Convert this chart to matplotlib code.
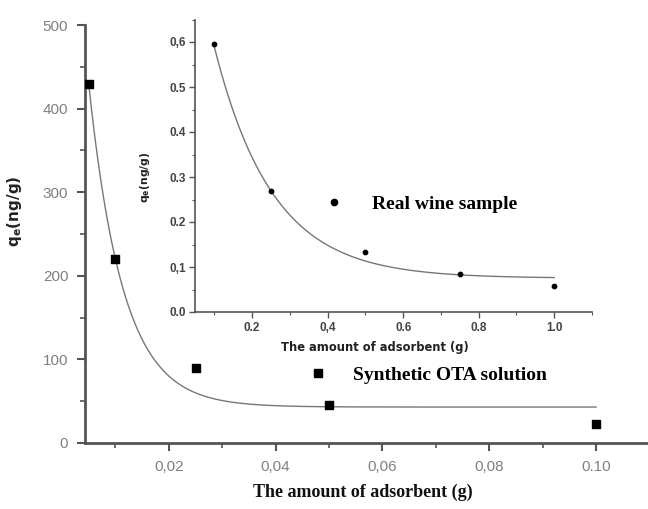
import numpy as np
import matplotlib
matplotlib.use("Agg")
import matplotlib.pyplot as plt
from matplotlib.ticker import MultipleLocator, FixedLocator, FixedFormatter
from matplotlib.lines import Line2D

# ---- data ----
main_x = [0.005, 0.010, 0.025, 0.050, 0.100]
main_y = [430, 220, 90, 46, 23]
# exponential decay fit y = y0 + A*exp(-x/t)
main_fit_y0, main_fit_A, main_fit_t = 43.0, 844.0, 0.0064

inset_x = [0.10, 0.25, 0.50, 0.75, 1.00]
inset_y = [0.595, 0.268, 0.133, 0.085, 0.058]
inset_fit_y0, inset_fit_A, inset_fit_t = 0.075, 0.985, 0.154

main_xticks = [0.02, 0.04, 0.06, 0.08, 0.10]
main_xticklabels = ["0,02", "0,04", "0,06", "0,08", "0.10"]
main_yticks = [0, 100, 200, 300, 400, 500]
inset_xticks = [0.2, 0.4, 0.6, 0.8, 1.0]
inset_xticklabels = ["0.2", "0,4", "0.6", "0.8", "1.0"]
inset_yticks = [0.0, 0.1, 0.2, 0.3, 0.4, 0.5, 0.6]
inset_yticklabels = ["0.0", "0,1", "0.2", "0.3", "0.4", "0.5", "0,6"]

W, H = 648, 509
fig = plt.figure(figsize=(W/100, H/100), dpi=100)

spine_c = "#555555"
line_c = "#777777"

# ---- main axes ----
ax = fig.add_axes([85/W, 1-443/H, (650-85)/W, (443-25)/H])
ax.scatter(main_x, main_y, marker="s", s=26, color="black", zorder=3)
xf = np.linspace(main_x[0], main_x[-1], 400)
ax.plot(xf, main_fit_y0 + main_fit_A*np.exp(-xf/main_fit_t), color=line_c, lw=1.0)
ax.set_xlim(0.0043, 0.1101)
ax.set_ylim(0, 500)
for s in ["top", "right"]:
    ax.spines[s].set_visible(False)
for s in ["left", "bottom"]:
    ax.spines[s].set_color(spine_c)
    ax.spines[s].set_linewidth(2.0)
ax.xaxis.set_major_locator(FixedLocator(main_xticks))
ax.xaxis.set_major_formatter(FixedFormatter(main_xticklabels))
ax.xaxis.set_minor_locator(MultipleLocator(0.01))
ax.yaxis.set_major_locator(FixedLocator(main_yticks))
ax.yaxis.set_minor_locator(MultipleLocator(50))
ax.tick_params(which="major", direction="out", length=6, width=1.5, color=spine_c,
               labelsize=11, labelcolor="#808080", pad=6)
ax.tick_params(which="minor", direction="out", length=3.5, width=1.2, color=spine_c)
for lab in ax.get_xticklabels() + ax.get_yticklabels():
    lab.set_family("Liberation Sans")

fig.text(15/W, 1-211/H, r"q$_\mathbf{e}$(ng/g)", rotation=90, ha="center", va="center",
         fontsize=11, fontweight="bold", family="DejaVu Sans", color="#222222")
fig.text(363/W, 1-492/H, "The amount of adsorbent (g)", ha="center", va="center",
         fontsize=13, fontweight="bold", family="Liberation Serif", color="#111111")

h1 = Line2D([], [], marker="s", ls="none", color="black", markersize=6)
ax.legend([h1], ["Synthetic OTA solution"], loc="center left",
          bbox_to_anchor=(308/W, 1-375/H), bbox_transform=fig.transFigure,
          frameon=False, borderpad=0, borderaxespad=0, handlelength=1.0,
          handletextpad=1.3, prop={"family": "Liberation Serif", "weight": "bold", "size": 14})

# ---- inset axes ----
ai = fig.add_axes([195.4/W, 1-312/H, (592-195.4)/W, (312-19.5)/H])
ai.patch.set_alpha(0)
ai.scatter(inset_x, inset_y, marker="o", s=10, color="black", zorder=3)
xi = np.linspace(inset_x[0], inset_x[-1], 400)
ai.plot(xi, inset_fit_y0 + inset_fit_A*np.exp(-xi/inset_fit_t), color=line_c, lw=1.0)
ai.set_xlim(0.05, 1.1)
ai.set_ylim(0, 0.65)
for s in ["top", "right"]:
    ai.spines[s].set_visible(False)
for s in ["left", "bottom"]:
    ai.spines[s].set_color(spine_c)
    ai.spines[s].set_linewidth(1.2)
ai.xaxis.set_major_locator(FixedLocator(inset_xticks))
ai.xaxis.set_major_formatter(FixedFormatter(inset_xticklabels))
ai.xaxis.set_minor_locator(MultipleLocator(0.1))
ai.yaxis.set_major_locator(FixedLocator(inset_yticks))
ai.yaxis.set_major_formatter(FixedFormatter(inset_yticklabels))
ai.yaxis.set_minor_locator(MultipleLocator(0.05))
ai.tick_params(which="major", direction="out", length=4, width=1.0, color=spine_c,
               labelsize=8.5, labelcolor="#444444", pad=3)
ai.tick_params(which="minor", direction="out", length=2.5, width=0.8, color=spine_c)
for lab in ai.get_xticklabels() + ai.get_yticklabels():
    lab.set_family("Liberation Sans")
    lab.set_fontweight("bold")

fig.text(145/W, 1-177/H, r"q$_\mathbf{e}$(ng/g)", rotation=90, ha="center", va="center",
         fontsize=7.8, fontweight="bold", family="DejaVu Sans", color="#222222")
fig.text(375/W, 1-347/H, "The amount of adsorbent (g)", ha="center", va="center",
         fontsize=8.3, fontweight="bold", family="DejaVu Sans", color="#222222")

h2 = Line2D([], [], marker="o", ls="none", color="black", markersize=4.5)
ai.legend([h2], ["Real wine sample"], loc="center left",
          bbox_to_anchor=(324/W, 1-204/H), bbox_transform=fig.transFigure,
          frameon=False, borderpad=0, borderaxespad=0, handlelength=1.0,
          handletextpad=1.47, prop={"family": "Liberation Serif", "weight": "bold", "size": 14})

fig.savefig("out.png", dpi=100)
